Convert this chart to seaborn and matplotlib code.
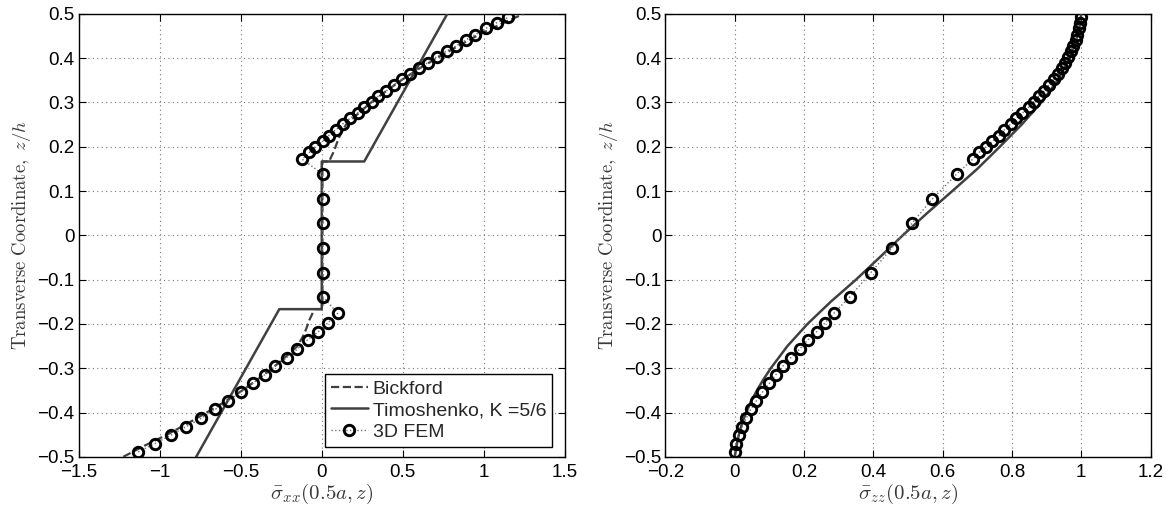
import matplotlib
matplotlib.use('Agg')
import matplotlib.pyplot as plt
import seaborn as sns

# ---------------- data ----------------
# 3D FEM through-thickness samples (z/h)
fem_z = [-0.489, -0.470, -0.451, -0.432, -0.413, -0.393, -0.374, -0.354, -0.334,
         -0.315, -0.295, -0.276, -0.257, -0.236, -0.218, -0.197, -0.176,
         -0.139, -0.084, -0.029, 0.027, 0.082, 0.138,
         0.172, 0.187, 0.200, 0.212, 0.225, 0.238, 0.251, 0.264, 0.276, 0.289,
         0.302, 0.314, 0.326, 0.340, 0.352, 0.364, 0.377, 0.390, 0.403, 0.416,
         0.428, 0.441, 0.453, 0.467, 0.480, 0.492]
fem_sxx = [-1.133, -1.030, -0.930, -0.837, -0.744, -0.658, -0.577, -0.500, -0.426,
           -0.353, -0.286, -0.216, -0.151, -0.088, -0.023, 0.040, 0.098,
           0.008, 0.008, 0.006, 0.005, 0.005, 0.005,
           -0.121, -0.077, -0.040, 0.005, 0.042, 0.086, 0.128, 0.174, 0.221, 0.263,
           0.309, 0.349, 0.398, 0.447, 0.495, 0.547, 0.600, 0.656, 0.709, 0.770,
           0.830, 0.888, 0.947, 1.012, 1.081, 1.151]
fem_szz = [0.000, 0.003, 0.011, 0.022, 0.033, 0.046, 0.062, 0.080, 0.100,
           0.118, 0.139, 0.162, 0.187, 0.211, 0.236, 0.261, 0.286,
           0.332, 0.393, 0.453, 0.511, 0.570, 0.640,
           0.687, 0.705, 0.725, 0.743, 0.763, 0.778, 0.796, 0.813, 0.830, 0.848,
           0.863, 0.877, 0.893, 0.907, 0.920, 0.932, 0.943, 0.952, 0.962, 0.970,
           0.977, 0.984, 0.989, 0.993, 0.997, 0.999]

# Timoshenko (K = 5/6), sigma_xx
timo_z = [-0.5, -1/6, -1/6, 1/6, 1/6, 0.5]
timo_sxx = [-0.775, -0.262, 0.0, 0.0, 0.262, 0.775]

# Bickford, sigma_xx
bick_z = [-0.5, -0.475, -0.45, -0.425, -0.40, -0.375, -0.35, -0.325, -0.30, -0.275,
          -0.25, -0.226, -0.21, -0.19, -1/6, -1/6, 1/6, 1/6, 0.19, 0.21, 0.226,
          0.25, 0.275, 0.30, 0.325, 0.35, 0.375, 0.40, 0.425, 0.45, 0.475, 0.5]
bick_sxx = [-1.225, -1.095, -0.955, -0.83, -0.71, -0.595, -0.49, -0.395, -0.305, -0.225,
            -0.15, -0.113, -0.095, -0.075, -0.045, 0.004, 0.004, 0.045, 0.075, 0.095, 0.113,
            0.15, 0.225, 0.305, 0.395, 0.49, 0.595, 0.71, 0.83, 0.955, 1.095, 1.245]

# transverse normal stress sigma_zz (theory curve)
szz_z = [-0.5, -0.48, -0.46, -0.44, -0.42, -0.4, -0.375, -0.35, -0.325, -0.3, -0.25,
         -0.2, -0.15, -0.1, -0.05, 0.0, 0.05, 0.1, 0.15, 0.2, 0.25, 0.3, 0.35, 0.4,
         0.45, 0.475, 0.5]
szz_line = [0.000, 0.004, 0.009, 0.015, 0.023, 0.033, 0.047, 0.064, 0.083, 0.104, 0.152,
            0.210, 0.277, 0.350, 0.418, 0.485, 0.555, 0.628, 0.700, 0.765, 0.828, 0.885,
            0.932, 0.966, 0.989, 0.996, 1.000]

# ticks
yticks = [-0.5, -0.4, -0.3, -0.2, -0.1, 0, 0.1, 0.2, 0.3, 0.4, 0.5]
ytick_labels = ['\u22120.5', '\u22120.4', '\u22120.3', '\u22120.2', '\u22120.1', '0',
                '0.1', '0.2', '0.3', '0.4', '0.5']
xticks_left = [-1.5, -1, -0.5, 0, 0.5, 1, 1.5]
xtick_labels_left = ['\u22121.5', '\u22121', '\u22120.5', '0', '0.5', '1', '1.5']
xticks_right = [-0.2, 0, 0.2, 0.4, 0.6, 0.8, 1.0, 1.2]
xtick_labels_right = ['\u22120.2', '0', '0.2', '0.4', '0.6', '0.8', '1', '1.2']

# ---------------- style ----------------
sns.set_theme(style='ticks')
plt.rcParams['font.family'] = ['Liberation Sans', 'DejaVu Sans']
plt.rcParams['mathtext.fontset'] = 'cm'

line_color = '#404040'
label_color = '#3a3a3a'

fig = plt.figure(figsize=(11.72, 5.12), dpi=100)
ax1 = fig.add_axes([0.0672, 0.1078, 0.4147, 0.8652])
ax2 = fig.add_axes([0.5678, 0.1078, 0.4139, 0.8652])

fem_kw = dict(color='#707070', linestyle=':', lw=1.0, marker='o', markersize=7.5,
              markerfacecolor='none', markeredgecolor='black', markeredgewidth=2.1)

# left panel
sns.lineplot(x=bick_sxx, y=bick_z, sort=False, estimator=None, ax=ax1,
             color=line_color, linestyle='--', lw=1.6, label='Bickford', zorder=3)
sns.lineplot(x=timo_sxx, y=timo_z, sort=False, estimator=None, ax=ax1,
             color=line_color, linestyle='-', lw=1.8, label='Timoshenko, K =5/6', zorder=3)
sns.lineplot(x=fem_sxx, y=fem_z, sort=False, estimator=None, ax=ax1,
             label='3D FEM', zorder=4, **fem_kw)

# right panel
sns.lineplot(x=szz_line, y=szz_z, sort=False, estimator=None, ax=ax2,
             color=line_color, linestyle='-', lw=1.8, zorder=3, legend=False)
sns.lineplot(x=fem_szz, y=fem_z, sort=False, estimator=None, ax=ax2,
             zorder=4, legend=False, **fem_kw)

for ax, xt, xl, xlab in [(ax1, xticks_left, xtick_labels_left, r'$\bar{\sigma}_{xx}(0.5a,z)$'),
                         (ax2, xticks_right, xtick_labels_right, r'$\bar{\sigma}_{zz}(0.5a,z)$')]:
    ax.set_xlim(xt[0], xt[-1])
    ax.set_ylim(-0.5, 0.5)
    ax.set_xticks(xt)
    ax.set_xticklabels(xl)
    ax.set_yticks(yticks)
    ax.set_yticklabels(ytick_labels)
    ax.tick_params(direction='in', top=True, right=True, length=5, width=0.8,
                   labelsize=13.5, colors='black')
    ax.tick_params(axis='y', pad=3)
    ax.tick_params(axis='x', pad=5.5)
    ax.grid(True, linestyle=(0, (1, 3)), color='#777777', lw=0.8)
    for s in ax.spines.values():
        s.set_color('black')
        s.set_linewidth(1.0)
    ax.set_xlabel(xlab, fontsize=15, color=label_color, labelpad=0)
    ax.set_ylabel(r'$\mathrm{Transverse\ Coordinate},\ z/h$', fontsize=13.5,
                  color=label_color, labelpad=3)

leg = ax1.legend(loc='lower right', bbox_to_anchor=(0.974, 0.023), borderaxespad=0,
                 fancybox=False, framealpha=1, edgecolor='black', fontsize=14,
                 handlelength=1.9, handletextpad=0.25, borderpad=0.3, labelspacing=0.2)
leg.get_frame().set_linewidth(1.0)

fig.savefig('out.png', dpi=100)
